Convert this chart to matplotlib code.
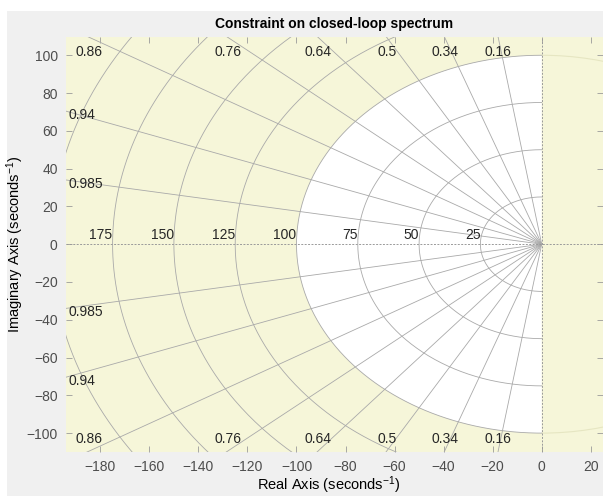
import numpy as np
import matplotlib
matplotlib.use('Agg')
import matplotlib.pyplot as plt
from matplotlib.patches import Wedge, Arc, Rectangle

plt.rcParams['font.family'] = ['Liberation Sans', 'DejaVu Sans']
plt.rcParams['mathtext.default'] = 'regular'

# grid / constraint data
zeta_vals = [0.16, 0.34, 0.5, 0.64, 0.76, 0.86, 0.94, 0.985]
zeta_labels = ['0.16', '0.34', '0.5', '0.64', '0.76', '0.86', '0.94', '0.985']
wn_vals = [25, 50, 75, 100, 125, 150, 175, 200, 225]
wn_labels = ['25', '50', '75', '100', '125', '150', '175', '200', '225']
radius_max = 100  # max natural frequency constraint
x_ticks = [-180, -160, -140, -120, -100, -80, -60, -40, -20, 0, 20]
y_ticks = [-100, -80, -60, -40, -20, 0, 20, 40, 60, 80, 100]

xlim = (-194, 25)
ylim = (-110, 109.5)

yellow = '#f6f6d9'
grid_c = '#a9a9a9'
lab_c = '#262626'

fig = plt.figure(figsize=(6.03, 4.96), dpi=100, facecolor='white')
fig.patches.append(Rectangle((7 / 603, 0), 1, 1 - 11 / 496, transform=fig.transFigure,
                             facecolor='#f0f0f0', edgecolor='none', zorder=-10))
ax = fig.add_axes([66 / 603, 1 - 452 / 496, 1 - 66 / 603, (452 - 37.3) / 496])
ax.set_facecolor(yellow)
ax.set_xlim(*xlim)
ax.set_ylim(*ylim)

# allowed region (white half disk)
ax.add_patch(Wedge((0, 0), radius_max, 90, 270, facecolor='white', edgecolor='none', zorder=1))
# faint edge of the constraint in the right half plane
ax.add_patch(Arc((0, 0), 2 * radius_max, 2 * radius_max, theta1=-90, theta2=90,
                 color='#e6e6c2', lw=0.8, zorder=1.5))

# damping rays
R = 400
for z in zeta_vals:
    s = np.sqrt(1 - z ** 2)
    ax.plot([0, -z * R], [0, s * R], color=grid_c, lw=0.6, zorder=2)
    ax.plot([0, -z * R], [0, -s * R], color=grid_c, lw=0.6, zorder=2)

# natural frequency circles (left half plane)
th = np.linspace(np.pi / 2, 3 * np.pi / 2, 300)
for w in wn_vals:
    ax.plot(w * np.cos(th), w * np.sin(th), color=grid_c, lw=0.6, zorder=2)

# axes lines
ax.axhline(0, color='#9a9a9a', lw=0.7, ls=(0, (2, 1.5)), zorder=2.5)
ax.axvline(0, color='#9a9a9a', lw=0.7, ls=(0, (2, 1.5)), zorder=2.5)

# damping labels
for z, lab in zip(zeta_vals, zeta_labels):
    s = np.sqrt(1 - z ** 2)
    xt = -ylim[1] * z / s
    if xt > xlim[0] + 6:
        ax.text(xt, ylim[1] - 8, lab, ha='center', va='center', fontsize=10, color=lab_c, zorder=3)
        ax.text(xt, ylim[0] + 7, lab, ha='center', va='center', fontsize=10, color=lab_c, zorder=3)
    else:
        yt = -xlim[0] * s / z
        ax.text(xlim[0] + 1, yt - 2, lab, ha='left', va='center', fontsize=10, color=lab_c, zorder=3)
        ax.text(xlim[0] + 1, -yt - 2, lab, ha='left', va='center', fontsize=10, color=lab_c, zorder=3)

# frequency labels
for w, lab in zip(wn_vals, wn_labels):
    if -w > xlim[0]:
        ax.text(-w, 1, lab, ha='right', va='bottom', fontsize=10, color=lab_c, zorder=3)

ax.set_xticks(x_ticks)
ax.set_yticks(y_ticks)
ax.tick_params(direction='in', length=4, width=0.6, color='#9a9a9a', labelcolor='#4d4d4d',
               labelsize=10, top=True, right=True)
ax.tick_params(axis='x', pad=6)
ax.tick_params(axis='y', pad=6)
for sp in ax.spines.values():
    sp.set_visible(False)

ax.set_title('Constraint on closed-loop spectrum', fontsize=10, fontweight='bold', pad=7)
ax.set_xlabel('Real Axis (seconds$^{-1}$)', fontsize=10.5)
ax.set_ylabel('Imaginary Axis (seconds$^{-1}$)', fontsize=10.5)
ax.xaxis.set_label_coords(0.49, -0.054)
ax.yaxis.set_label_coords(-0.075, 0.5)

fig.savefig('out.png', dpi=100, facecolor=fig.get_facecolor())
